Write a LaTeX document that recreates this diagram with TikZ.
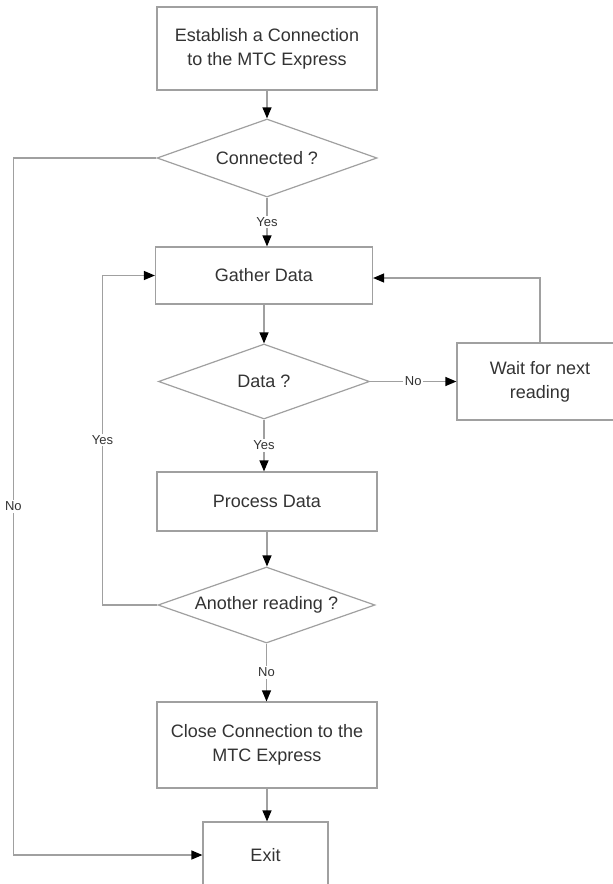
\documentclass[tikz,border=0pt]{standalone}
\usepackage{fontspec}
\setmainfont{Liberation Sans}
\usetikzlibrary{shapes.geometric,arrows.meta}
\definecolor{edgegray}{HTML}{A0A0A0}
\definecolor{textgray}{HTML}{333333}
\begin{document}
\begin{tikzpicture}[x=1pt,y=-1pt,
  box/.style={draw=edgegray,line width=1.2pt,rectangle,inner sep=0pt,align=center,text=textgray,font=\fontsize{18}{24}\selectfont},
  test/.style={draw=edgegray,line width=1.2pt,diamond,aspect=2.8,inner sep=0pt,text=textgray,font=\fontsize{18}{24}\selectfont},
  flow/.style={draw=edgegray,line width=1.2pt,-{Triangle[length=11pt,width=9pt,color=black]}},
  lbl/.style={fill=white,inner sep=1.5pt,text=textgray,font=\fontsize{13}{15}\selectfont}]
\clip (0,0) rectangle (613,884);
\fill[white] (0,0) rectangle (613,884);
\node[box,minimum width=220,minimum height=83] (est) at (267,48.5) {Establish a Connection\\to the MTC Express};
\node[test,minimum width=220,minimum height=78] (conn) at (267,158) {Connected ?};
\node[box,minimum width=217,minimum height=57] (gather) at (264,275.5) {Gather Data};
\node[test,minimum width=211,minimum height=75] (data) at (264,381.5) {Data ?};
\node[box,minimum width=166,minimum height=77] (wait) at (540,381.5) {Wait for next\\reading};
\node[box,minimum width=220,minimum height=59] (proc) at (267,501.5) {Process Data};
\node[test,minimum width=217,minimum height=76] (another) at (266.5,605) {Another reading ?};
\node[box,minimum width=220,minimum height=86] (close) at (267,745) {Close Connection to the\\MTC Express};
\node[box,minimum width=125,minimum height=66] (exit) at (265.5,855) {Exit};
\draw[flow] (est) -- (conn);
\draw[flow] (conn.south) -- node[lbl]{Yes} (conn.south |- gather.north);
\draw[flow] (conn.west) -- ++(-143,0) |- node[lbl,pos=.25]{No} (exit.west);
\draw[flow] (gather) -- (data);
\draw[flow] (data.east) -- node[lbl]{No} (wait.west);
\draw[flow] (wait.north) |- ([yshift=-2.5]gather.east);
\draw[flow] (data.south) -- node[lbl]{Yes} (data.south |- proc.north);
\draw[flow] (proc.south) -- (proc.south |- another.north);
\draw[flow] (another.west) -- ++(-55,0) |- node[lbl,pos=.25]{Yes} (gather.west);
\draw[flow] (another.south) -- node[lbl]{No} (another.south |- close.north);
\draw[flow] (close.south) -- (close.south |- exit.north);
\end{tikzpicture}
\end{document}
